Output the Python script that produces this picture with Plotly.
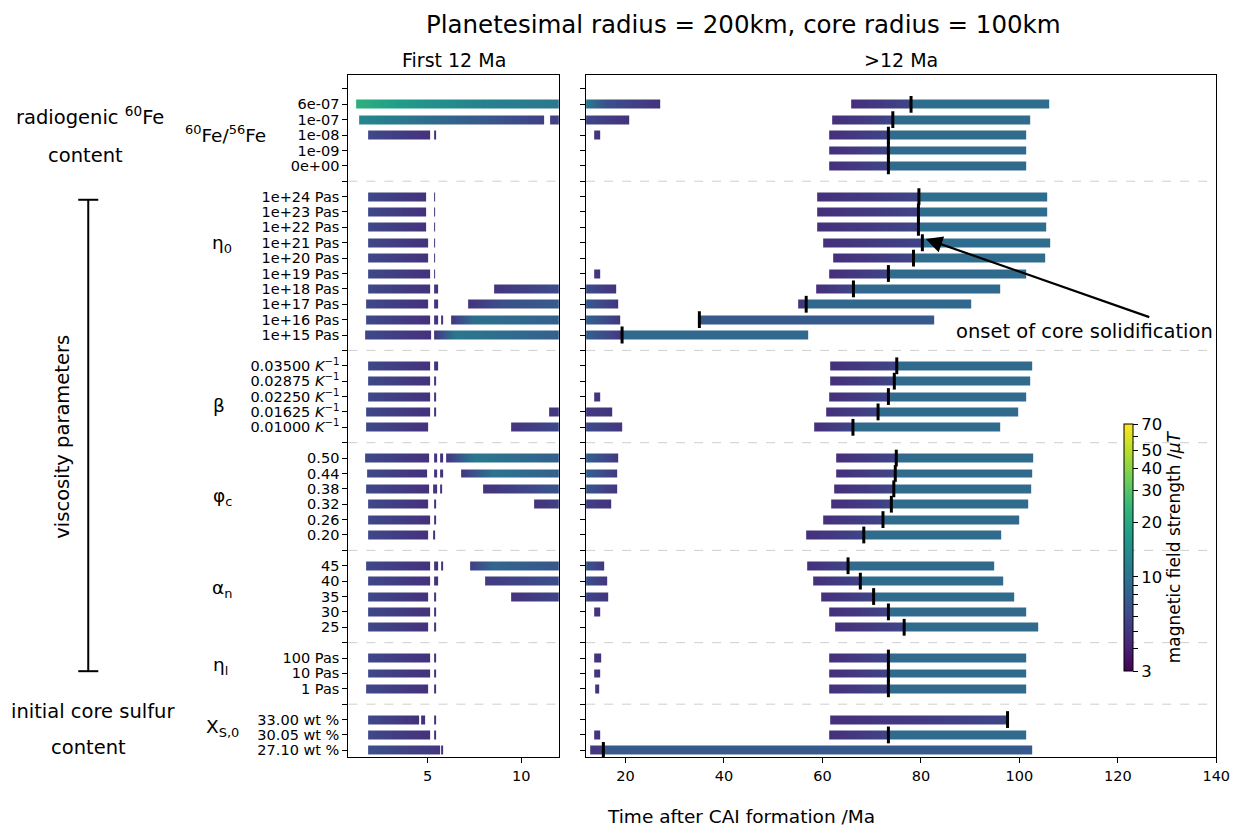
import numpy as np
import plotly.graph_objects as go

# page placement (measured): screen_x ~ 0.987*(fig_x + 8), screen_y ~ fig_y + 8
SCALE_X, OFF = 0.987, 8
W, H = 1246, 825

# ---------------- data ----------------
row_labels = [
    "", "6e-07", "1e-07", "1e-08", "1e-09", "0e+00", "",
    "1e+24 Pas", "1e+23 Pas", "1e+22 Pas", "1e+21 Pas", "1e+20 Pas",
    "1e+19 Pas", "1e+18 Pas", "1e+17 Pas", "1e+16 Pas", "1e+15 Pas", "",
    "0.03500 <i>K</i><sup>−1</sup>", "0.02875 <i>K</i><sup>−1</sup>",
    "0.02250 <i>K</i><sup>−1</sup>", "0.01625 <i>K</i><sup>−1</sup>",
    "0.01000 <i>K</i><sup>−1</sup>", "",
    "0.50", "0.44", "0.38", "0.32", "0.26", "0.20", "",
    "45", "40", "35", "30", "25", "",
    "100 Pas", "10 Pas", "1 Pas", "",
    "33.00 wt %", "30.05 wt %", "27.10 wt %",
]
separator_rows = [6, 17, 23, 30, 36, 40]

group_labels = ["<sup>60</sup>Fe/<sup>56</sup>Fe", "η<sub>0</sub>", "β",
                "φ<sub>c</sub>", "α<sub>n</sub>", "η<sub>l</sub>", "X<sub>S,0</sub>"]

# early dynamo segments: lists of (time Ma, field uT) knots, per row
early_segments = [
    [],
    [[(1.21, 22), (4.0, 16), (8.0, 12), (12.0, 10.5), (16.0, 6.5), (26.9, 4.8)]],
    [[(1.32, 13), (6.0, 8.5), (11.24, 5.5)], [(11.57, 5.6), (12.5, 5.8), (20.8, 4.8)]],
    [[(1.82, 6.0), (5.14, 4.7)], [(5.32, 4.8), (5.44, 4.8)], [(13.56, 4.8), (14.78, 4.8)]],
    [],
    [],
    [],
    [[(1.82, 6.0), (4.94, 4.7)], [(5.32, 4.8), (5.43, 4.8)]],
    [[(1.82, 6.0), (4.94, 4.7)], [(5.32, 4.8), (5.43, 4.8)]],
    [[(1.82, 6.0), (4.94, 4.7)], [(5.32, 4.8), (5.43, 4.8)]],
    [[(1.82, 6.0), (5.05, 4.7)], [(5.32, 4.8), (5.43, 4.8)]],
    [[(1.82, 6.0), (5.05, 4.7)], [(5.32, 4.8), (5.43, 4.8)]],
    [[(1.82, 6.0), (5.14, 4.7)], [(5.32, 4.8), (5.43, 4.8)], [(13.56, 4.8), (14.78, 4.8)]],
    [[(1.82, 6.0), (5.14, 4.7)], [(5.35, 4.8), (5.55, 4.8)], [(8.57, 4.9), (12.0, 6.3), (18.0, 4.8)]],
    [[(1.73, 6.0), (5.05, 4.7)], [(5.35, 4.8), (5.55, 4.8)], [(7.14, 4.8), (9.0, 6.5), (12.0, 7.3), (18.65, 4.9)]],
    [[(1.73, 6.0), (5.14, 4.7)], [(5.35, 4.8), (5.55, 4.8)], [(5.75, 4.8), (5.85, 4.8)],
     [(6.25, 5.0), (7.5, 9.5), (12.0, 8.0), (19.0, 5.0)]],
    [[(1.64, 6.0), (5.21, 4.7)], [(5.35, 4.8), (6.5, 10.5), (12.0, 7.8), (19.3, 5.0)]],
    [],
    [[(1.82, 6.0), (5.14, 4.7)], [(5.35, 4.8), (5.55, 4.8)]],
    [[(1.82, 6.0), (5.14, 4.7)], [(5.35, 4.8), (5.46, 4.8)]],
    [[(1.82, 6.0), (5.14, 4.7)], [(5.35, 4.8), (5.46, 4.8)], [(13.56, 4.8), (14.78, 4.8)]],
    [[(1.73, 6.0), (5.14, 4.7)], [(5.35, 4.8), (5.46, 4.8)], [(11.46, 4.9), (12.0, 5.2), (17.1, 4.8)]],
    [[(1.73, 6.0), (5.05, 4.7)], [(9.46, 4.9), (12.0, 6.1), (19.3, 5.0)]],
    [],
    [[(1.69, 6.0), (5.10, 4.7)], [(5.32, 4.8), (5.51, 4.8)], [(5.69, 4.8), (5.80, 4.8)],
     [(6.01, 5.0), (7.5, 10.5), (12.0, 7.8), (18.5, 5.0)]],
    [[(1.76, 6.0), (4.96, 4.7)], [(5.32, 4.8), (5.51, 4.8)], [(5.69, 4.8), (5.80, 4.8)],
     [(6.78, 5.0), (8.5, 10.0), (12.0, 7.8), (18.4, 5.0)]],
    [[(1.74, 6.0), (5.07, 4.7)], [(5.30, 4.8), (5.49, 4.8)], [(5.66, 4.8), (5.76, 4.8)],
     [(7.98, 4.8), (12.0, 6.9), (18.2, 5.0)]],
    [[(1.83, 6.0), (5.05, 4.7)], [(5.35, 4.8), (5.46, 4.8)], [(10.67, 4.8), (12.0, 5.5), (16.95, 4.8)]],
    [[(1.82, 6.0), (5.14, 4.7)], [(5.35, 4.8), (5.46, 4.8)]],
    [[(1.80, 6.0), (5.01, 4.7)], [(5.30, 4.8), (5.41, 4.8)]],
    [],
    [[(1.73, 6.0), (5.14, 4.7)], [(5.35, 4.8), (5.55, 4.8)], [(5.75, 4.8), (5.85, 4.8)],
     [(7.25, 5.5), (8.5, 8.5), (12.0, 7.0), (15.66, 5.0)]],
    [[(1.82, 6.0), (5.14, 4.7)], [(5.35, 4.8), (5.55, 4.8)], [(8.05, 5.2), (12.0, 6.5), (16.1, 5.0)]],
    [[(1.82, 6.0), (5.05, 4.7)], [(5.35, 4.8), (5.46, 4.8)], [(9.46, 4.8), (12.0, 5.8), (16.4, 4.9)]],
    [[(1.82, 6.0), (5.14, 4.7)], [(5.35, 4.8), (5.46, 4.8)], [(13.56, 4.8), (14.78, 4.8)]],
    [[(1.82, 6.0), (5.05, 4.7)], [(5.35, 4.8), (5.46, 4.8)]],
    [],
    [[(1.82, 6.0), (5.14, 4.7)], [(5.35, 4.8), (5.46, 4.8)], [(13.56, 4.8), (14.9, 4.8)]],
    [[(1.82, 6.0), (5.14, 4.7)], [(5.35, 4.8), (5.46, 4.8)], [(13.56, 4.8), (14.78, 4.8)]],
    [[(1.73, 6.0), (5.05, 4.7)], [(5.35, 4.8), (5.46, 4.8)], [(13.76, 4.8), (14.58, 4.8)]],
    [],
    [[(1.82, 6.0), (4.53, 4.7)], [(4.64, 4.8), (4.84, 4.8)], [(5.35, 4.8), (5.46, 4.8)]],
    [[(1.82, 6.0), (5.14, 4.7)], [(5.35, 4.8), (5.46, 4.8)], [(13.56, 4.8), (14.78, 4.8)]],
    [[(1.82, 6.5), (5.64, 5.0)], [(5.75, 4.8), (5.85, 4.8)], [(12.8, 5.0), (15.5, 5.2)]],
]

N = None
late_start = [N, 65.8, 62.0, 61.4, 61.3, 61.3, N, 59.0, 58.9, 58.9, 60.2, 62.1, 61.4, 58.8, 55.0, 35.0,
              19.3, N, 61.6, 61.6, 61.4, 60.7, 58.3, N, 62.7, 62.7, 62.4, 61.8, 60.1, 56.5, N,
              56.7, 58.1, 59.8, 61.4, 62.6, N, 61.4, 61.4, 61.4, N, 61.6, 61.4, 15.5]
onset_time = [N, 78.0, 74.3, 73.4, 73.4, 73.4, N, 79.6, 79.5, 79.5, 80.3, 78.5, 73.4, 66.3, 56.7, 35.0,
              19.3, N, 75.1, 74.6, 73.4, 71.3, 66.2, N, 75.0, 74.8, 74.5, 74.0, 72.3, 68.4, N,
              65.2, 67.7, 70.4, 73.4, 76.6, N, 73.4, 73.4, 73.4, N, 97.6, 73.4, 15.5]
late_end = [N, 105.9, 102.1, 101.4, 101.4, 101.3, N, 105.5, 105.5, 105.4, 106.2, 105.1, 101.4, 96.2, 90.1,
            82.6, 57.0, N, 102.5, 102.2, 101.4, 99.8, 96.0, N, 102.8, 102.6, 102.4, 101.7, 100.0, 96.4, N,
            94.7, 96.7, 99.0, 101.4, 103.8, N, 101.4, 101.4, 101.4, N, 97.6, 101.4, 102.6]
post_onset_field = [N, 9.2, 8.9, 8.9, 8.9, 8.9, N, 9.2, 9.2, 9.2, 9.2, 9.0, 8.9, 8.7, 8.6, 7.3,
                    8.6, N, 8.9, 8.9, 8.9, 8.9, 8.9, N, 8.9, 8.9, 8.9, 8.9, 8.9, 8.9, N,
                    8.9, 8.9, 8.9, 8.9, 8.9, N, 8.9, 8.9, 8.9, N, 8.9, 8.9, 7.3]
pre_onset_field = (4.6, 5.8)

cbar_ticks = [3, 4, 5, 6, 7, 8, 9, 10, 20, 30, 40, 50, 60, 70]
cbar_text = ["3", "", "", "", "", "", "", "10", "20", "30", "40", "50", "", "70"]
left_xticks = [5, 10]
right_xticks = [20, 40, 60, 80, 100, 120, 140]

# ---------------- build ----------------
nrows = len(row_labels)
HALF = 0.29
FONT = "DejaVu Sans"


def px(x):
    return (x / SCALE_X - OFF) / W


def py(y):
    return 1 - (y - OFF) / H


def row_segments(i):
    segs = list(early_segments[i])
    if late_start[i] is not None:
        s, o, e = late_start[i], onset_time[i], late_end[i]
        if o > s:
            segs.append([(s, pre_onset_field[0]), (o, pre_onset_field[1])])
        if e > o:
            segs.append([(o, post_onset_field[i]), (e, post_onset_field[i])])
    return segs


def build_z(edges):
    tc = 0.5 * (edges[:-1] + edges[1:])
    rows = []
    for i in range(nrows):
        v = np.full(tc.shape, np.nan)
        for seg in row_segments(i):
            ts = np.array([p[0] for p in seg])
            bs = np.log10([p[1] for p in seg])
            m = (tc >= ts[0]) & (tc <= ts[-1])
            v[m] = np.interp(tc[m], ts, bs)
        rows.append(v)
        if i < nrows - 1:
            rows.append(np.full(tc.shape, np.nan))
    return np.array(rows)


y_edges = []
for i in range(nrows):
    y_edges += [i - HALF, i + HALF]

edges_left = np.arange(0.70, 12.1, 0.02)
edges_right = np.arange(11.8, 140.2, 0.2)

fig = go.Figure()
fig.add_trace(go.Heatmap(x=edges_left, y=y_edges, z=build_z(edges_left),
                         coloraxis="coloraxis", xaxis="x", yaxis="y", hoverinfo="skip"))
fig.add_trace(go.Heatmap(x=edges_right, y=y_edges, z=build_z(edges_right),
                         coloraxis="coloraxis", xaxis="x2", yaxis="y2", hoverinfo="skip"))

ox = [t for t in onset_time if t is not None]
oy = [i for i, t in enumerate(onset_time) if t is not None]
fig.add_trace(go.Scatter(x=ox, y=oy, mode="markers", xaxis="x2", yaxis="y2",
                         marker=dict(symbol="line-ns", size=12,
                                     line=dict(width=3, color="black")),
                         hoverinfo="skip", showlegend=False))

YR = [43.44, -0.91]
ydom = [py(758), py(75)]
axis_common = dict(showline=True, linecolor="black", linewidth=1.2, mirror=True,
                   ticks="outside", ticklen=5, tickwidth=1.1, tickcolor="black",
                   showgrid=False, zeroline=False)

fig.update_layout(
    width=W, height=H, autosize=False, margin=dict(l=0, r=0, t=0, b=0),
    plot_bgcolor="white", paper_bgcolor="white", showlegend=False,
    font=dict(family=FONT, color="black"),
    xaxis=dict(domain=[px(347.7), px(557.7)], range=[0.77, 12.0],
               tickvals=left_xticks, anchor="y",
               tickfont=dict(family=FONT, size=14.5, color="black"), **axis_common),
    xaxis2=dict(domain=[px(585), px(1214)], range=[12.0, 140],
                tickvals=right_xticks, anchor="y2",
                tickfont=dict(family=FONT, size=14.5, color="black"), **axis_common),
    yaxis=dict(domain=ydom, range=YR, tickvals=list(range(nrows)),
               ticktext=row_labels, anchor="x",
               tickfont=dict(family=FONT, size=14.5, color="black"), **axis_common),
    yaxis2=dict(domain=ydom, range=YR, tickvals=list(range(nrows)),
                showticklabels=False, anchor="x2", **axis_common),
    coloraxis=dict(
        colorscale="Viridis", cmin=np.log10(3), cmax=np.log10(70),
        colorbar=dict(
            x=px(1122), xanchor="left", xpad=0, ypad=0,
            y=py(672), yanchor="bottom", len=247 / H, lenmode="fraction",
            thickness=9, outlinecolor="black", outlinewidth=1,
            tickvals=list(np.log10(cbar_ticks)), ticktext=cbar_text,
            ticks="outside", ticklen=5, tickcolor="black",
            tickfont=dict(family=FONT, size=16.5, color="black"),
            title=dict(text="magnetic field strength /<i>μT</i>", side="right",
                       font=dict(family=FONT, size=17, color="black")),
        ),
    ),
)

shapes = []
for r in separator_rows:
    for xr, yr in (("x domain", "y"), ("x2 domain", "y2")):
        shapes.append(dict(type="line", xref=xr, yref=yr, x0=0, x1=1, y0=r, y1=r,
                           line=dict(color="#c8c8c8", width=0.9, dash="dash"), layer="below"))
# bracket for viscosity parameters
shapes.append(dict(type="line", xref="paper", yref="paper", x0=px(88), x1=px(88),
                   y0=py(200), y1=py(672), line=dict(color="black", width=2)))
for yy in (200, 672):
    shapes.append(dict(type="line", xref="paper", yref="paper", x0=px(78), x1=px(98),
                       y0=py(yy), y1=py(yy), line=dict(color="black", width=2)))
fig.update_layout(shapes=shapes)

ann = []


def text(t, x, y, size, angle=0):
    ann.append(dict(text=t, x=px(x), y=py(y), xref="paper", yref="paper", showarrow=False,
                    xanchor="center", yanchor="middle", textangle=angle,
                    font=dict(family=FONT, size=size, color="black")))


text("Planetesimal radius = 200km, core radius = 100km", 742, 25, 24.5)
text("First 12 Ma", 452.7, 60, 19)
text(">12 Ma", 899, 60, 19)
text("Time after CAI formation /Ma", 740, 817, 18.5)

group_pos = [(225, 134), (222, 244), (219, 406), (222, 498), (222, 590), (220, 667), (222, 729)]
for g, (gx, gy) in zip(group_labels, group_pos):
    text(g, gx, gy, 18.5)

text("radiogenic <sup>60</sup>Fe", 90, 116, 19.5)
text("content", 85, 156, 19.5)
text("viscosity parameters", 62, 437, 19.5, angle=-90)
text("initial core sulfur", 93, 712, 19.5)
text("content", 88, 748, 19.5)
text("onset of core solidification", 1082, 332, 19.5)

ann.append(dict(text="", x=81.0, y=9.75, xref="x2", yref="y2",
                ax=126.7, ay=14.87, axref="x2", ayref="y2",
                showarrow=True, arrowhead=2, arrowsize=1.5, arrowwidth=2.2,
                arrowcolor="black", standoff=0))
fig.update_layout(annotations=ann)

fig.write_html("out.html")
